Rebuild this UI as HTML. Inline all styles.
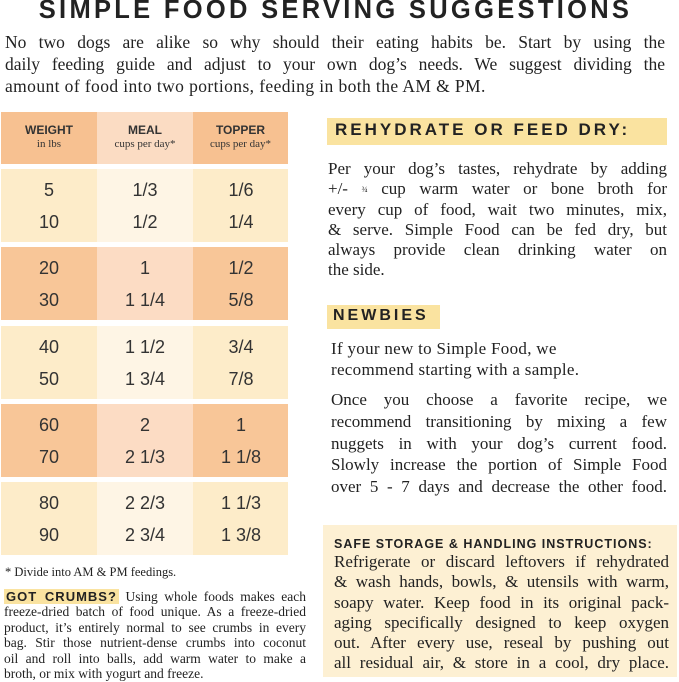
<!DOCTYPE html>
<html><head><meta charset="utf-8"><style>
*{margin:0;padding:0;box-sizing:border-box}
body{width:679px;height:682px;background:#fff;position:relative;overflow:hidden;font-family:"Liberation Serif",serif;color:#222}
.a{position:absolute}
.l{display:block;text-align:justify;text-align-last:justify;white-space:nowrap}
.e{display:block;white-space:nowrap}
.t{font-family:"Liberation Sans",sans-serif;font-weight:bold;letter-spacing:2px}
.cell{position:absolute;text-align:center;font-family:"Liberation Sans",sans-serif;font-size:17px;color:#333}
.hl{background:#fae3a0}
</style></head><body>
<div class="a t" style="left:0;width:671px;top:-4px;text-align:center;font-size:25.5px;letter-spacing:3.3px">SIMPLE FOOD SERVING SUGGESTIONS</div>
<div class="a" style="left:5px;top:31px;width:660px;font-size:17.5px;line-height:22px">
<span class="l">No two dogs are alike so why should their eating habits be. Start by using the</span>
<span class="l">daily feeding guide and adjust to your own dog’s needs. We suggest dividing the</span>
<span class="e" style="letter-spacing:0.4px">amount of food into two portions, feeding in both the AM &amp; PM.</span></div>

<div class="a" style="left:1px;top:112px;width:96px;height:52px;background:#f7c191"></div>
<div class="a" style="left:97px;top:112px;width:96px;height:52px;background:#fbdcc3"></div>
<div class="a" style="left:193px;top:112px;width:95px;height:52px;background:#f7c191"></div>
<div class="cell" style="left:1px;top:124px;width:96px;font-size:12px;line-height:13px"><b>WEIGHT</b><br><span style="font-family:'Liberation Serif';font-size:11px">in lbs</span></div>
<div class="cell" style="left:97px;top:124px;width:96px;font-size:12px;line-height:13px"><b>MEAL</b><br><span style="font-family:'Liberation Serif';font-size:11px">cups per day*</span></div>
<div class="cell" style="left:193px;top:124px;width:95px;font-size:12px;line-height:13px"><b>TOPPER</b><br><span style="font-family:'Liberation Serif';font-size:11px">cups per day*</span></div>

<div id="bands"></div>
<script>
var d=[["5","10","1/3","1/2","1/6","1/4"],["20","30","1","1 1/4","1/2","5/8"],["40","50","1 1/2","1 3/4","3/4","7/8"],["60","70","2","2 1/3","1","1 1/8"],["80","90","2 2/3","2 3/4","1 1/3","1 3/8"]];
var h="";
for(var i=0;i<5;i++){var y=169+i*78.3;var dk=i%2==1;
var o=dk?"#f8c698":"#fdecc9",m=dk?"#fcdcc4":"#fef5e5";
h+='<div class="a" style="left:1px;top:'+y+'px;width:96px;height:73px;background:'+o+'"></div>';
h+='<div class="a" style="left:97px;top:'+y+'px;width:96px;height:73px;background:'+m+'"></div>';
h+='<div class="a" style="left:193px;top:'+y+'px;width:95px;height:73px;background:'+o+'"></div>';
var r=d[i];var xs=[1,97,193];
for(var c=0;c<3;c++){h+='<div class="cell" style="left:'+xs[c]+'px;width:96px;top:'+(y+5)+'px;line-height:32px;font-size:18px">'+r[c*2]+'<br>'+r[c*2+1]+'</div>';}
}
document.getElementById("bands").innerHTML=h;
</script>

<div class="a" style="left:5px;top:565px;font-size:12.5px">* Divide into AM &amp; PM feedings.</div>
<div class="a" style="left:4px;top:589px;width:302px;font-size:13.5px;line-height:15.4px">
<span class="l"><span class="t hl" style="font-size:13px;letter-spacing:1px;padding:0 2px">GOT CRUMBS?</span> Using whole foods makes each</span>
<span class="l">freeze-dried batch of food unique. As a freeze-dried</span>
<span class="l">product, it’s entirely normal to see crumbs in every</span>
<span class="l">bag. Stir those nutrient-dense crumbs into coconut</span>
<span class="l">oil and roll into balls, add warm water to make a</span>
<span class="e">broth, or mix with yogurt and freeze.</span></div>

<div class="a hl" style="left:327px;top:118px;width:340px;height:27px"></div>
<div class="a t" style="left:335px;top:120px;font-size:17px;letter-spacing:3px">REHYDRATE OR FEED DRY:</div>
<div class="a" style="left:328px;top:159px;width:339px;font-size:17px;line-height:20.3px">
<span class="l">Per your dog’s tastes, rehydrate by adding</span>
<span class="l" style="height:20.3px">+/- <span style="font-size:8px;line-height:0;vertical-align:2px">¾</span> cup warm water or bone broth for</span>
<span class="l">every cup of food, wait two minutes, mix,</span>
<span class="l">&amp; serve. Simple Food can be fed dry, but</span>
<span class="l">always provide clean drinking water on</span>
<span class="e">the side.</span></div>
<div class="a hl" style="left:327px;top:305px;width:113px;height:24px"></div>
<div class="a t" style="left:333px;top:307px;font-size:16px;letter-spacing:3px">NEWBIES</div>
<div class="a" style="left:331px;top:339px;width:320px;font-size:17px;line-height:20.5px">
<span class="e" style="letter-spacing:0.3px">If your new to Simple Food, we</span>
<span class="e" style="letter-spacing:0.3px">recommend starting with a sample.</span></div>
<div class="a" style="left:331px;top:389px;width:336px;font-size:17px;line-height:21.8px">
<span class="l">Once you choose a favorite recipe, we</span>
<span class="l">recommend transitioning by mixing a few</span>
<span class="l">nuggets in with your dog’s current food.</span>
<span class="l">Slowly increase the portion of Simple Food</span>
<span class="l">over 5 - 7 days and decrease the other food.</span></div>
<div class="a" style="left:323px;top:525px;width:354px;height:152px;background:#fdf0d3"></div>
<div class="a t" style="left:334px;top:537px;font-size:12.5px;letter-spacing:1px">SAFE STORAGE &amp; HANDLING INSTRUCTIONS:</div>
<div class="a" style="left:334px;top:552px;width:335px;font-size:17px;line-height:20.3px">
<span class="l">Refrigerate or discard leftovers if rehydrated</span>
<span class="l">&amp; wash hands, bowls, &amp; utensils with warm,</span>
<span class="l">soapy water. Keep food in its original pack-</span>
<span class="l">aging specifically designed to keep oxygen</span>
<span class="l">out. After every use, reseal by pushing out</span>
<span class="l">all residual air, &amp; store in a cool, dry place.</span></div>
</body></html>
